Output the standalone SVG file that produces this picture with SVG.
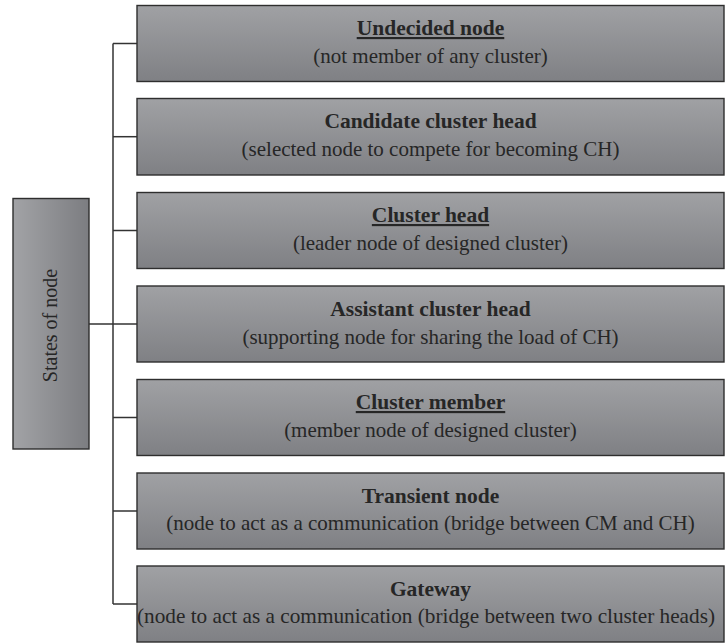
<svg xmlns="http://www.w3.org/2000/svg" width="725" height="644" viewBox="0 0 725 644">
  <defs>
    <linearGradient id="boxFill" x1="0" y1="0" x2="0" y2="1">
      <stop offset="0" stop-color="#a0a1a4"/>
      <stop offset="1" stop-color="#7f8084"/>
    </linearGradient>
    <linearGradient id="rootFill" x1="0" y1="0" x2="1" y2="0">
      <stop offset="0" stop-color="#a2a3a6"/>
      <stop offset="1" stop-color="#7c7d81"/>
    </linearGradient>
  </defs>
  <style>
    .box { fill: url(#boxFill); stroke: #2e2e2e; stroke-width: 1.4; }
    .root { fill: url(#rootFill); stroke: #2e2e2e; stroke-width: 1.4; }
    .title { font-family: "Liberation Serif", "DejaVu Serif", serif; font-size: 21.5px; font-weight: bold; fill: #262626; text-anchor: middle; }
    .sub { font-family: "Liberation Serif", "DejaVu Serif", serif; font-size: 21px; fill: #262626; text-anchor: middle; }
    .u { text-decoration: underline; }
    .wire { stroke: #333; stroke-width: 1.5; fill: none; }
  </style>

  <g id="connectors">
    <line class="wire" x1="113" y1="43.5" x2="113" y2="604"/>
    <line class="wire" x1="113" y1="43.5" x2="137" y2="43.5"/>
    <line class="wire" x1="113" y1="136.7" x2="137" y2="136.7"/>
    <line class="wire" x1="113" y1="230.5" x2="137" y2="230.5"/>
    <line class="wire" x1="113" y1="324" x2="137" y2="324"/>
    <line class="wire" x1="113" y1="417.5" x2="137" y2="417.5"/>
    <line class="wire" x1="113" y1="511" x2="137" y2="511"/>
    <line class="wire" x1="113" y1="604" x2="137" y2="604"/>
    <line class="wire" x1="89" y1="324" x2="113" y2="324" stroke-width="2.2"/>
  </g>

  <g id="states-of-node">
    <rect class="root" x="13" y="198.5" width="76" height="250.5"/>
    <text class="sub" style="font-size:20px" transform="translate(57 325.5) rotate(-90)">States of node</text>
  </g>

  <g id="undecided-node">
    <rect class="box" x="137" y="5.5" width="587" height="76"/>
    <text class="title u" x="430.5" y="35">Undecided node</text>
    <text class="sub" x="430.5" y="63">(not member of any cluster)</text>
  </g>

  <g id="candidate-cluster-head">
    <rect class="box" x="137" y="98.5" width="587" height="76.5"/>
    <text class="title" x="430.5" y="128">Candidate cluster head</text>
    <text class="sub" x="430.5" y="156">(selected node to compete for becoming CH)</text>
  </g>

  <g id="cluster-head">
    <rect class="box" x="137" y="192.5" width="587" height="76"/>
    <text class="title u" x="430.5" y="222">Cluster head</text>
    <text class="sub" x="430.5" y="250">(leader node of designed cluster)</text>
  </g>

  <g id="assistant-cluster-head">
    <rect class="box" x="137" y="286" width="587" height="76"/>
    <text class="title" x="430.5" y="315.5">Assistant cluster head</text>
    <text class="sub" x="430.5" y="343.5">(supporting node for sharing the load of CH)</text>
  </g>

  <g id="cluster-member">
    <rect class="box" x="137" y="379.5" width="587" height="76"/>
    <text class="title u" x="430.5" y="409">Cluster member</text>
    <text class="sub" x="430.5" y="437">(member node of designed cluster)</text>
  </g>

  <g id="transient-node">
    <rect class="box" x="137" y="473" width="587" height="76"/>
    <text class="title" x="430.5" y="503">Transient node</text>
    <text class="sub" x="430.5" y="530">(node to act as a communication (bridge between CM and CH)</text>
  </g>

  <g id="gateway">
    <rect class="box" x="137" y="566" width="587" height="76"/>
    <text class="title" x="430.5" y="596">Gateway</text>
    <text class="sub" x="426" y="623" textLength="578" lengthAdjust="spacingAndGlyphs">(node to act as a communication (bridge between two cluster heads)</text>
  </g>
</svg>
